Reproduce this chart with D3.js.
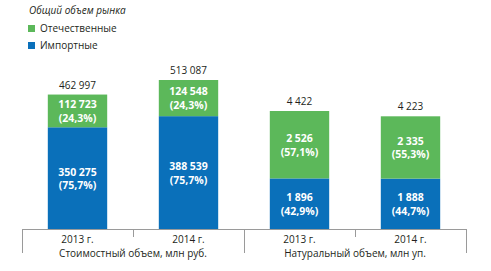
<!DOCTYPE html>
<html>
<head>
<meta charset="utf-8">
<script src="https://cdn.jsdelivr.net/npm/d3@7"></script>
<style>
  body { margin: 0; background: #fff; }
  svg { display: block; font-family: "Open Sans", sans-serif; }
</style>
</head>
<body>
<div id="chart"></div>
<script>
// data
const groups = ["Стоимостный объем, млн руб.", "Натуральный объем, млн уп."];
const years = ["2013 г.", "2014 г."];
const domestic = [112723, 124548, 2526, 2335];
const imported = [350275, 388539, 1896, 1888];
const totals = [462997, 513087, 4422, 4223];
const domesticPct = ["24,3%", "24,3%", "57,1%", "55,3%"];
const importedPct = ["75,7%", "75,7%", "42,9%", "44,7%"];
const seriesNames = ["Отечественные", "Импортные"];
const legendTitle = "Общий объем рынка";

const width = 491, height = 271;
const green = "#5cb85a", blue = "#0a70ba", textColor = "#231f20", lineColor = "#9a9a9a";
const baseY = 229;

const fmt = v => d3.format(",")(v).replace(/,/g, "\u2009");
const fmtSp = v => d3.format(",")(v).replace(/,/g, " ");

const svg = d3.select("#chart").append("svg")
    .attr("width", width)
    .attr("height", height);

const x = d3.scaleBand()
    .domain(d3.range(4))
    .range([22, 466])
    .paddingInner(0.465)
    .paddingOuter(0.2325);

// separate value scales for the two groups
const yMoney = d3.scaleLinear().domain([0, 513087]).range([baseY, 80]);
const yUnits = d3.scaleLinear().domain([0, 4422]).range([baseY, 111]);
const yFor = i => (i < 2 ? yMoney : yUnits);

const bars = svg.append("g");

// blue (imported) bottom part
bars.selectAll(".imp")
    .data(imported)
    .join("rect")
    .attr("class", "imp")
    .attr("x", (d, i) => x(i))
    .attr("width", x.bandwidth())
    .attr("y", (d, i) => yFor(i)(d))
    .attr("height", (d, i) => baseY - yFor(i)(d))
    .attr("fill", blue);

// green (domestic) on top
bars.selectAll(".dom")
    .data(domestic)
    .join("rect")
    .attr("class", "dom")
    .attr("x", (d, i) => x(i))
    .attr("width", x.bandwidth())
    .attr("y", (d, i) => yFor(i)(d + imported[i]))
    .attr("height", (d, i) => yFor(i)(imported[i]) - yFor(i)(d + imported[i]))
    .attr("fill", green);

// labels inside segments
function segLabels(cls, vals, pcts, lo, hi) {
    const g = svg.selectAll("." + cls)
        .data(vals)
        .join("text")
        .attr("class", cls)
        .attr("text-anchor", "middle")
        .attr("fill", "#fff")
        .attr("font-weight", "bold")
        .attr("font-size", "10.5px")
        .attr("x", (d, i) => x(i) + x.bandwidth() / 2)
        .attr("y", (d, i) => (yFor(i)(lo(i)) + yFor(i)(hi(i))) / 2);
    g.append("tspan")
        .attr("x", (d, i) => x(i) + x.bandwidth() / 2)
        .attr("dy", "-0.25em")
        .text(d => fmtSp(d));
    g.append("tspan")
        .attr("x", (d, i) => x(i) + x.bandwidth() / 2)
        .attr("dy", "1.3em")
        .text((d, i) => "(" + pcts[i] + ")");
}
segLabels("impLbl", imported, importedPct, i => 0, i => imported[i]);
segLabels("domLbl", domestic, domesticPct, i => imported[i], i => imported[i] + domestic[i]);

// totals above
svg.selectAll(".total")
    .data(totals)
    .join("text")
    .attr("class", "total")
    .attr("text-anchor", "middle")
    .attr("font-size", "10px")
    .attr("fill", textColor)
    .attr("x", (d, i) => x(i) + x.bandwidth() / 2)
    .attr("y", (d, i) => yFor(i)(d) - 6)
    .text(d => fmtSp(d));

// category axis
const step = x.step();
const edge = i => x(i) - step * x.paddingInner() / 2;
const axis = svg.append("g").attr("stroke", lineColor).attr("stroke-width", 1);
axis.append("line")
    .attr("x1", edge(0)).attr("x2", edge(3) + step)
    .attr("y1", baseY + 0.5).attr("y2", baseY + 0.5);
[0, 1, 2, 3, 4].forEach(k => {
    const xx = Math.round(k < 4 ? edge(k) : edge(3) + step) + 0.5;
    axis.append("line")
        .attr("x1", xx).attr("x2", xx)
        .attr("y1", baseY)
        .attr("y2", k % 2 === 0 ? baseY + 24 : baseY + 8);
});

svg.selectAll(".year")
    .data(d3.range(4))
    .join("text")
    .attr("class", "year")
    .attr("text-anchor", "middle")
    .attr("font-size", "10px")
    .attr("fill", textColor)
    .attr("x", i => x(i) + x.bandwidth() / 2)
    .attr("y", baseY + 14)
    .text(i => years[i % 2]);

svg.selectAll(".grp")
    .data(groups)
    .join("text")
    .attr("class", "grp")
    .attr("text-anchor", "middle")
    .attr("font-size", "10px")
    .attr("fill", textColor)
    .attr("x", (d, i) => (edge(i * 2) + edge(i * 2) + 2 * step) / 2)
    .attr("y", baseY + 28)
    .text(d => d);

// legend
const legend = svg.append("g").attr("transform", "translate(28,0)");
legend.append("text")
    .attr("x", 1)
    .attr("y", 14)
    .attr("font-size", "10px")
    .attr("font-style", "italic")
    .attr("fill", textColor)
    .text(legendTitle);
legend.selectAll("rect")
    .data(seriesNames)
    .join("rect")
    .attr("x", 0)
    .attr("y", (d, i) => 25 + i * 17)
    .attr("width", 7)
    .attr("height", 7)
    .attr("fill", (d, i) => i === 0 ? green : blue);
legend.selectAll(".lg")
    .data(seriesNames)
    .join("text")
    .attr("class", "lg")
    .attr("x", 12)
    .attr("y", (d, i) => 32 + i * 17)
    .attr("font-size", "10px")
    .attr("fill", textColor)
    .text(d => d);
</script>
</body>
</html>
